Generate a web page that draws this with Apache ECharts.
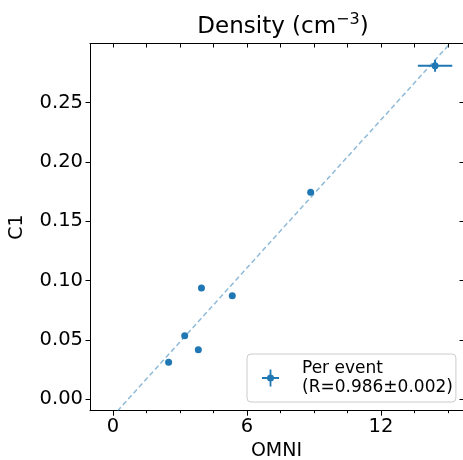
<!DOCTYPE html>
<html>
<head>
<meta charset="utf-8">
<script src="https://cdn.jsdelivr.net/npm/echarts@6/dist/echarts.min.js"></script>
<style>html,body{margin:0;padding:0;background:#fff}#c{width:463px;height:460px}</style>
</head>
<body>
<div id="c"></div>
<script>
// ---- data ----
const titleMain = 'Density (cm';
const titleSup = '−3';
const titleEnd = ')';
const xName = 'OMNI';
const yName = 'C1';
const xMajorTicks = [0, 6, 12];
const xMinorTicks = [1.5, 3, 4.5, 7.5, 9, 10.5, 13.5, 15];
const xAllTicks = [0, 1.5, 3, 4.5, 6, 7.5, 9, 10.5, 12, 13.5, 15];
const yMajorTicks = [0, 0.05, 0.10, 0.15, 0.20, 0.25];
const xRange = [-1.03, 15.67];
const yRange = [-0.0098, 0.2998];

const ptsX = [2.49, 3.21, 3.82, 3.96, 5.34, 8.85];
const ptsY = [0.031, 0.0534, 0.0416, 0.0936, 0.0872, 0.1743];

const evX = [14.42];
const evY = [0.281];
const evXErr = [0.77];
const evYErr = [0.005];

const fitX = [0.2, 15.1];
const fitY = [-0.0100, 0.3000];

const legendLines = ['Per event', '(R=0.986±0.002)'];

const blue = '#1f77b4';
const fontFam = 'DejaVu Sans';

const chart = echarts.init(document.getElementById('c'), null, {renderer: 'canvas'});

const baseX = {type: 'value', min: xRange[0], max: xRange[1], splitLine: {show: false}};
const baseY = {type: 'value', min: yRange[0], max: yRange[1], splitLine: {show: false}};

const option = {
  backgroundColor: '#fff',
  animation: false,
  textStyle: {fontFamily: fontFam, color: '#000'},
  title: {
    text: '{m|' + titleMain + '}{s|' + titleSup + '}{m|' + titleEnd + '}',
    left: 278, top: 7, textAlign: 'center',
    textStyle: {
      fontFamily: fontFam, fontSize: 23, fontWeight: 'normal', color: '#000',
      rich: {
        m: {fontFamily: fontFam, fontSize: 23, lineHeight: 30, color: '#000'},
        s: {fontFamily: fontFam, fontSize: 16, lineHeight: 16, verticalAlign: 'top', color: '#000'}
      }
    }
  },
  grid: {left: 90, top: 43.5, right: 0, bottom: 49.3, containLabel: false, outerBoundsMode: 'none'},
  legend: {
    show: true, left: 247, top: 354, orient: 'vertical',
    selectedMode: false,
    padding: [5, 3, 5, 15],
    backgroundColor: 'rgba(255,255,255,0.8)',
    borderColor: '#cccccc', borderWidth: 1, borderRadius: 4,
    itemWidth: 35, itemHeight: 17,
    data: [{
      name: 'Per event',
      icon: 'path://M0,7.6 L17,7.6 L17,9.4 L0,9.4 Z M7.6,0 L9.4,0 L9.4,17 L7.6,17 Z M12,8.5 A3.5,3.5 0 1 1 5,8.5 A3.5,3.5 0 1 1 12,8.5 Z M35,0 M35,17',
      itemStyle: {color: blue}
    }],
    formatter: () => legendLines.join('\n'),
    textStyle: {fontFamily: fontFam, fontSize: 17, lineHeight: 19, color: '#000'}
  },
  xAxis: [
    Object.assign({}, baseX, {
      position: 'bottom', name: xName, nameLocation: 'middle', nameGap: 31,
      nameTextStyle: {fontFamily: fontFam, fontSize: 19, color: '#000'},
      axisLine: {show: true, onZero: false, lineStyle: {color: '#000', width: 1}},
      axisTick: {show: true, inside: false, length: 5, customValues: xMajorTicks, lineStyle: {color: '#000'}},
      axisLabel: {show: true, customValues: xMajorTicks, margin: 6, fontFamily: fontFam, fontSize: 19.5, color: '#000'}
    }),
    Object.assign({}, baseX, {
      position: 'bottom',
      axisLine: {show: false, onZero: false},
      axisTick: {show: true, inside: false, length: 2.5, customValues: xMinorTicks, lineStyle: {color: '#000'}},
      axisLabel: {show: false}
    }),
    Object.assign({}, baseX, {
      position: 'top',
      axisLine: {show: true, onZero: false, lineStyle: {color: '#000', width: 1}},
      axisTick: {show: true, inside: true, length: 4, customValues: xAllTicks, lineStyle: {color: '#000'}},
      axisLabel: {show: false}
    })
  ],
  yAxis: [
    Object.assign({}, baseY, {
      position: 'left', name: yName, nameLocation: 'middle', nameGap: 63,
      nameTextStyle: {fontFamily: fontFam, fontSize: 19, color: '#000'},
      axisLine: {show: true, onZero: false, lineStyle: {color: '#000', width: 1}},
      axisTick: {show: true, inside: false, length: 4.5, customValues: yMajorTicks, lineStyle: {color: '#000'}},
      axisLabel: {show: true, customValues: yMajorTicks, margin: 7, fontFamily: fontFam, fontSize: 19.5, color: '#000',
        formatter: v => v.toFixed(2)}
    }),
    Object.assign({}, baseY, {
      position: 'right',
      axisLine: {show: true, onZero: false, lineStyle: {color: '#000', width: 1}},
      axisTick: {show: true, inside: true, length: 3.5, customValues: yMajorTicks, lineStyle: {color: '#000'}},
      axisLabel: {show: false}
    })
  ],
  series: [
    {
      type: 'line', name: 'fit', xAxisIndex: 0, yAxisIndex: 0,
      data: fitX.map((x, i) => [x, fitY[i]]),
      showSymbol: false, symbol: 'none', clip: true, silent: true,
      lineStyle: {color: blue, opacity: 0.5, width: 1.5, type: [5, 3]},
      z: 1
    },
    {
      type: 'scatter', name: 'points', xAxisIndex: 0, yAxisIndex: 0,
      data: ptsX.map((x, i) => [x, ptsY[i]]),
      symbol: 'circle', symbolSize: 7,
      itemStyle: {color: blue, opacity: 1},
      z: 3
    },
    {
      type: 'custom', name: 'Per event', xAxisIndex: 0, yAxisIndex: 0,
      data: evX.map((x, i) => [x, evY[i], evXErr[i], evYErr[i]]),
      itemStyle: {color: blue},
      renderItem: function (params, api) {
        const x = api.value(0), y = api.value(1), xe = api.value(2), ye = api.value(3);
        const a = api.coord([x - xe, y]), b = api.coord([x + xe, y]);
        const c = api.coord([x, y - ye]), d = api.coord([x, y + ye]);
        const p = api.coord([x, y]);
        const st = {stroke: blue, lineWidth: 2};
        return {
          type: 'group',
          children: [
            {type: 'line', shape: {x1: a[0], y1: a[1], x2: b[0], y2: b[1]}, style: st},
            {type: 'line', shape: {x1: c[0], y1: c[1], x2: d[0], y2: d[1]}, style: st},
            {type: 'circle', shape: {cx: p[0], cy: p[1], r: 3.5}, style: {fill: blue}}
          ]
        };
      },
      z: 4
    }
  ]
};
chart.setOption(option);
</script>
</body>
</html>
